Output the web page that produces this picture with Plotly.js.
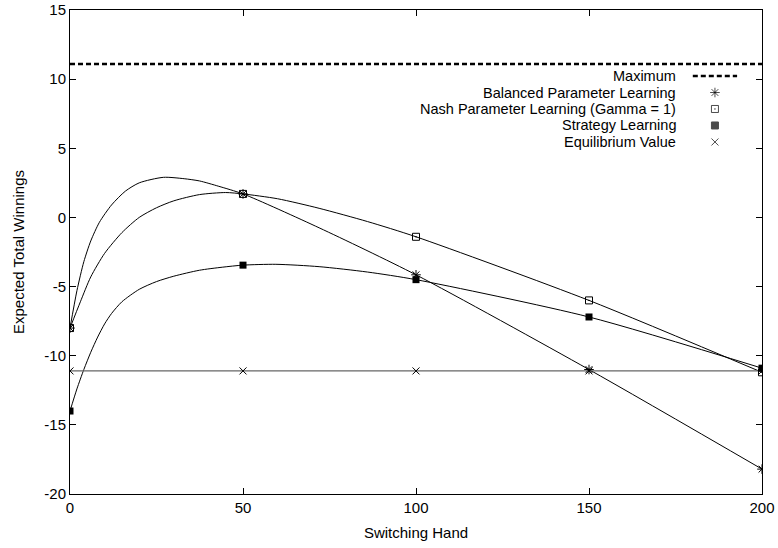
<!DOCTYPE html>
<html><head><meta charset="utf-8">
<script src="https://cdn.plot.ly/plotly-3.0.1.min.js"></script>
<style>html,body{margin:0;padding:0;background:#fff}#chart{width:778px;height:548px}</style>
</head><body><div id="chart"></div>
<script>
// ---- data ----
const hands = [0, 50, 100, 150, 200];
const balancedValues = [-8.0, 1.7, -4.15, -11.0, -18.2];
const nashValues = [-8.0, 1.7, -1.4, -6.0, -11.2];
const strategyValues = [-14.0, -3.45, -4.5, -7.2, -10.9];
const equilibriumValues = [-11.1, -11.1, -11.1, -11.1, -11.1];
const maximumValue = 11.1;

// smoothed curves
const balancedCurveX = [0, 2, 4, 6, 8.5, 12, 16, 20, 27, 33, 37.4, 43, 50, 72, 100, 150, 200];
const balancedCurveY = [-8.0, -5.3, -3.2, -1.7, -0.35, 0.9, 1.9, 2.5, 2.9, 2.8, 2.64, 2.25, 1.7, -0.75, -4.15, -11.0, -18.2];
const nashCurveX = [0, 3, 6, 10, 15, 20, 25, 30, 37.4, 45, 50, 60, 72, 86, 100, 150, 200];
const nashCurveY = [-8.0, -6.1, -4.3, -2.6, -1.1, 0.0, 0.7, 1.2, 1.65, 1.8, 1.7, 1.35, 0.66, -0.3, -1.4, -6.0, -11.2];
const strategyCurveX = [0, 2, 4, 6, 8, 10, 12, 15, 20, 25, 30, 37.4, 44, 50, 59.5, 72, 86, 100, 150, 200];
const strategyCurveY = [-14.0, -12.4, -11.0, -9.75, -8.65, -7.7, -6.95, -6.1, -5.2, -4.64, -4.25, -3.82, -3.6, -3.45, -3.39, -3.56, -3.95, -4.5, -7.2, -10.9];

const xTicks = [0, 50, 100, 150, 200];
const yTicks = [-20, -15, -10, -5, 0, 5, 10, 15];
const yTickLabels = ["-20", "-15", "-10", "-5", "0", "5", "10", "15"];
const legendNames = ["Maximum", "Balanced Parameter Learning", "Nash Parameter Learning (Gamma = 1)", "Strategy Learning", "Equilibrium Value"];

const font = "Liberation Sans, Arial, Helvetica, sans-serif";
const FS = 15;
const lineStyle = {color: "#000", width: 1, shape: "spline", smoothing: 0.7};

const traces = [
  {x: [hands[0], hands[hands.length - 1]], y: [maximumValue, maximumValue], mode: "lines",
   line: {color: "#000", width: 2.5, dash: "5px,3px"}, showlegend: false, hoverinfo: "skip"},
  {x: balancedCurveX, y: balancedCurveY, mode: "lines", line: lineStyle, showlegend: false},
  {x: nashCurveX, y: nashCurveY, mode: "lines", line: lineStyle, showlegend: false},
  {x: strategyCurveX, y: strategyCurveY, mode: "lines", line: lineStyle, showlegend: false},
  {x: hands, y: equilibriumValues, mode: "lines+markers", line: {color: "#666", width: 1.3},
   marker: {symbol: "x-thin-open", size: 7, color: "#000", line: {color: "#000", width: 1}}, showlegend: false},
  {x: hands, y: balancedValues, mode: "markers", marker: {symbol: "asterisk-open", size: 8, color: "#000", line: {color: "#000", width: 1}}, showlegend: false},
  {x: hands, y: nashValues, mode: "markers", marker: {symbol: "square-open-dot", size: 7, color: "#000", line: {color: "#000", width: 1}}, showlegend: false},
  {x: hands, y: strategyValues, mode: "markers", marker: {symbol: "square", size: 7, color: "#000", line: {width: 0}}, showlegend: false}
];

// gnuplot-style key: text right-aligned, sample on the right
const rowY = [0.8636, 0.8295, 0.7955, 0.7614, 0.7273];
const textX = 0.8785, sampleX = 0.932;
traces.push({
  x: [sampleX, sampleX, sampleX, sampleX], y: rowY.slice(1), xaxis: "x2", yaxis: "y2",
  mode: "markers", showlegend: false, hoverinfo: "skip",
  marker: {symbol: ["asterisk-open", "square-open-dot", "square", "x-thin-open"], size: [8, 7, 7, 7],
           color: "#000", line: {color: "#000", width: 1}}
});

const annotations = legendNames.map((t, i) => ({
  text: t, xref: "paper", yref: "paper", x: textX, y: rowY[i], xanchor: "right", yanchor: "middle",
  showarrow: false, font: {family: font, size: 14.5, color: "#000"}
}));

const axisCommon = {
  showline: true, linecolor: "#000", linewidth: 1, mirror: "ticks", ticks: "inside", ticklen: 6,
  tickcolor: "#000", tickwidth: 1, showgrid: false, zeroline: false,
  tickfont: {family: font, size: FS, color: "#000"}
};

const layout = {
  width: 778, height: 548,
  margin: {l: 70, r: 16, t: 10, b: 54},
  paper_bgcolor: "#fff", plot_bgcolor: "#fff",
  showlegend: false,
  font: {family: font, color: "#000"},
  xaxis: Object.assign({range: [0, 200], tickmode: "array", tickvals: xTicks,
    title: {text: "Switching Hand", font: {family: font, size: FS}, standoff: 12}}, axisCommon),
  yaxis: Object.assign({range: [-20, 15], tickmode: "array", tickvals: yTicks, ticktext: yTickLabels,
    title: {text: "Expected Total Winnings", font: {family: font, size: FS}, standoff: 16}}, axisCommon),
  xaxis2: {overlaying: "x", range: [0, 1], visible: false, anchor: "y2"},
  yaxis2: {overlaying: "y", range: [0, 1], visible: false, anchor: "x2"},
  annotations: annotations,
  shapes: [{type: "line", xref: "paper", yref: "paper", x0: 0.900, x1: 0.964, y0: rowY[0], y1: rowY[0],
            line: {color: "#000", width: 2.5, dash: "5px,3px"}}]
};

Plotly.newPlot("chart", traces, layout, {displayModeBar: false, staticPlot: true});
</script></body></html>
